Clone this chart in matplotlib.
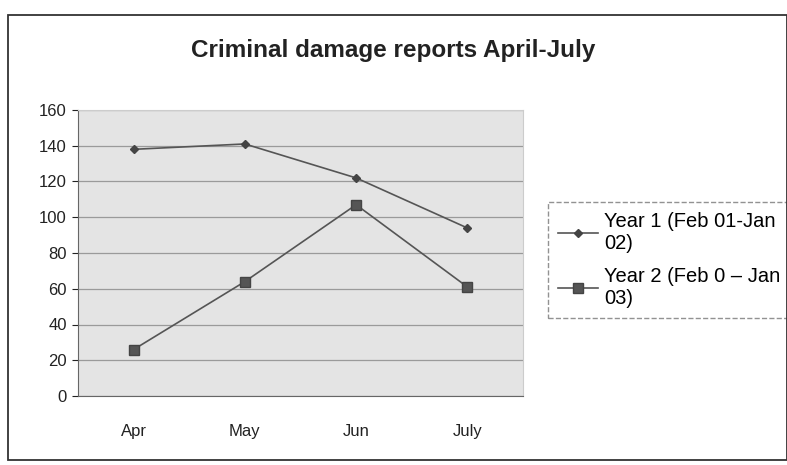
import matplotlib
matplotlib.use("Agg")
import matplotlib.pyplot as plt
from matplotlib.patches import Rectangle

months = ["Apr", "May", "Jun", "July"]
year1 = [138, 141, 122, 94]
year2 = [26, 64, 107, 61]
yticks = [0, 20, 40, 60, 80, 100, 120, 140, 160]
title = "Criminal damage reports April-July"
label1 = "Year 1 (Feb 01-Jan\n02)"
label2 = "Year 2 (Feb 0 \u2013 Jan\n03)"

plt.rcParams['font.family'] = ['Liberation Sans', 'DejaVu Sans']

W, H = 787, 465
fig = plt.figure(figsize=(W/100, H/100), dpi=100)
fig.patch.set_facecolor("white")

# outer chart border
fig.add_artist(Rectangle((8/W, 5/H), 1 - 8/W, 1 - 20/H, transform=fig.transFigure,
                         fill=False, edgecolor="#333333", linewidth=1.3))

left, right, top, bottom = 78, 523, 110, 396
ax = fig.add_axes([left/W, 1 - bottom/H, (right-left)/W, (bottom-top)/H])
ax.set_facecolor("#e4e4e4")
x = list(range(len(months)))
ax.plot(x, year1, color="#555555", linewidth=1.2, marker="D", markersize=4.5,
        markerfacecolor="#444444", markeredgecolor="#444444", label=label1)
ax.plot(x, year2, color="#555555", linewidth=1.2, marker="s", markersize=6.5,
        markerfacecolor="#555555", markeredgecolor="#444444", label=label2)
ax.set_xlim(-0.5, 3.5)
ax.set_ylim(0, 160)
ax.set_yticks(yticks)
ax.set_xticks(x)
ax.set_xticklabels(months)
ax.yaxis.grid(True, color="#9a9a9a", linewidth=0.9)
ax.set_axisbelow(True)
for s in ["top", "right"]:
    ax.spines[s].set_color("#cccccc")
ax.spines["left"].set_color("#666666")
ax.spines["bottom"].set_color("#666666")
ax.tick_params(axis="y", labelsize=12, colors="#222222", length=4, pad=4)
ax.tick_params(axis="x", labelsize=12, colors="#222222", length=0, pad=20)

fig.text(0.5, 1 - 50/H, title, ha="center", va="center", fontsize=17.5,
         fontweight="bold", color="#222222")

leg = ax.legend(loc="center left", bbox_to_anchor=((538 - left)/(right-left), 1 - (260 - top)/(bottom-top)),
                frameon=True, fancybox=False, fontsize=14.5, handlelength=2.0,
                handletextpad=0.3, borderpad=0.5, labelspacing=0.7, edgecolor="#777777")
leg.get_frame().set_linestyle("--")
leg.get_frame().set_linewidth(1.0)

fig.savefig("out.png", dpi=100)
